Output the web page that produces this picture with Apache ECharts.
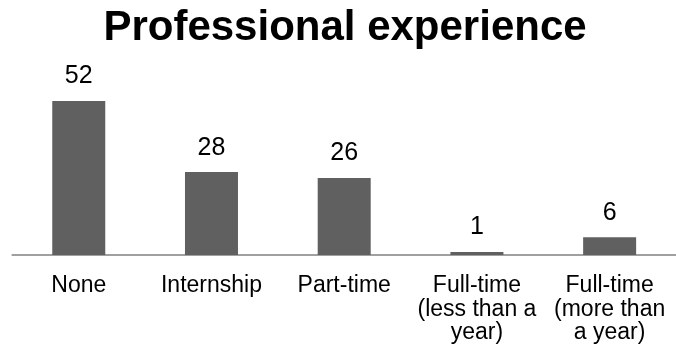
<!DOCTYPE html>
<html>
<head>
<meta charset="utf-8">
<script src="https://cdn.jsdelivr.net/npm/echarts@6/dist/echarts.min.js"></script>
<style>
html,body{margin:0;padding:0;background:#fff;}
#chart{width:676px;height:356px;}
</style>
</head>
<body>
<div id="chart"></div>
<script>
const titleText = "Professional experience";
const categories = ["None", "Internship", "Part-time", "Full-time\n(less than a\nyear)", "Full-time\n(more than\na year)"];
const values = [52, 28, 26, 1, 6];

const chart = echarts.init(document.getElementById('chart'), null, {renderer: 'canvas'});
chart.setOption({
  backgroundColor: '#ffffff',
  animation: false,
  title: {
    text: titleText,
    left: 340,
    top: 2,
    textAlign: 'center',
    textStyle: {
      fontFamily: 'Liberation Sans',
      fontWeight: 'bold',
      fontSize: 42,
      color: '#000000'
    }
  },
  grid: {
    left: 12.4,
    right: -5.9,
    top: 77.4,
    bottom: 101,
    containLabel: false
  },
  xAxis: {
    type: 'category',
    data: categories,
    axisLine: {show: true, lineStyle: {color: '#a0a0a0', width: 2}},
    axisTick: {show: false},
    axisLabel: {
      interval: 0,
      margin: 19,
      fontFamily: 'Liberation Sans',
      fontSize: 23,
      lineHeight: 23.5,
      color: '#000000',
      align: 'center'
    }
  },
  yAxis: {
    type: 'value',
    min: 0,
    max: 60,
    show: false,
    splitLine: {show: false}
  },
  series: [{
    type: 'bar',
    data: values,
    barWidth: 53,
    itemStyle: {color: '#606060'},
    label: {
      show: true,
      position: 'top',
      distance: 12,
      fontFamily: 'Liberation Sans',
      fontSize: 25,
      color: '#000000'
    }
  }]
});
</script>
</body>
</html>
